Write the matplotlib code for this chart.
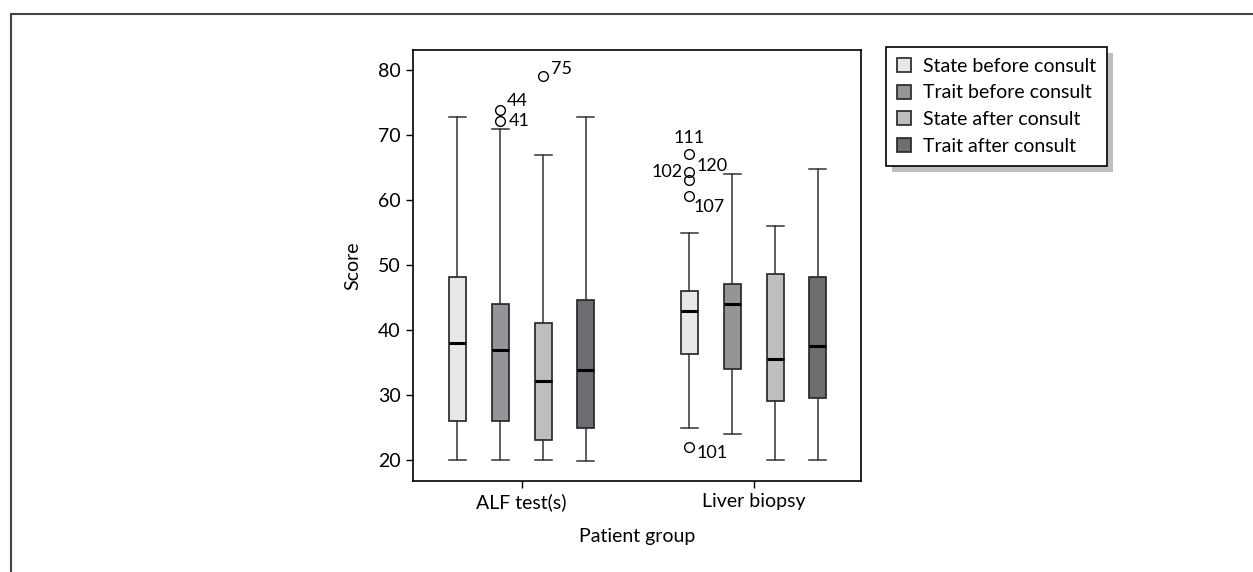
import matplotlib
matplotlib.use('Agg')
import matplotlib.pyplot as plt
from matplotlib.patches import Rectangle, Patch
from matplotlib.lines import Line2D
from matplotlib.transforms import IdentityTransform

plt.rcParams['font.family'] = ['Lato', 'DejaVu Sans']

groups = ['ALF test(s)', 'Liver biopsy']
series = ['State before consult', 'Trait before consult',
          'State after consult', 'Trait after consult']
colors = ['#e6e7e8', '#939598', '#bcbec0', '#6d6e71']

# one row per series, values for [ALF test(s), Liver biopsy]
whis_lo = [[20, 25], [20, 24], [20, 20.1], [19.9, 20]]
q1 = [[26.1, 36.4], [26.1, 34.0], [23.1, 29.1], [25.0, 29.6]]
med = [[38.0, 43.0], [37.0, 44.1], [32.2, 35.6], [33.9, 37.5]]
q3 = [[48.2, 46.1], [44.1, 47.1], [41.1, 48.6], [44.6, 48.2]]
whis_hi = [[72.8, 55.0], [71.0, 64.0], [67.0, 56.0], [72.8, 64.8]]
outliers = [[[], [67.1, 64.4, 63.1, 60.7, 22.0]],
            [[73.8, 72.2], []],
            [[79.1], []],
            [[], []]]
outlier_ids = [[[], ['111', '102', '120', '107', '101']],
               [['44', '41'], []],
               [['75'], []],
               [[], []]]

# label placement (offset in points, alignment)
label_pos = {'111': (0, 6, 'center', 'bottom'),
             '102': (-5, 0, 'right', 'center'),
             '120': (5, 10, 'left', 'center'),
             '107': (3, -8, 'left', 'center'),
             '101': (5, -4, 'left', 'center'),
             '44': (5, 7, 'left', 'center'),
             '41': (6, 0, 'left', 'center'),
             '75': (6, 5, 'left', 'center')}

fig = plt.figure(figsize=(12.53, 5.72), dpi=100)
ax = fig.add_axes([413/1253, 1-481/572, 448/1253, 431/572])

step = 0.185
width = 0.073
for i in range(len(series)):
    stats = []
    pos = []
    for g in range(len(groups)):
        stats.append({'whislo': whis_lo[i][g], 'q1': q1[i][g], 'med': med[i][g],
                      'q3': q3[i][g], 'whishi': whis_hi[i][g], 'fliers': outliers[i][g]})
        pos.append(g + (i - 1.5) * step)
    ax.bxp(stats, positions=pos, widths=width, capwidths=width, patch_artist=True,
           boxprops=dict(facecolor=colors[i], edgecolor='#222222', linewidth=1.2),
           medianprops=dict(color='black', linewidth=2.2),
           whiskerprops=dict(color='#333333', linewidth=1.1),
           capprops=dict(color='#333333', linewidth=1.1),
           flierprops=dict(marker='o', markersize=7, markerfacecolor='none',
                           markeredgecolor='black', markeredgewidth=1))
    for g in range(len(groups)):
        for v, lab in zip(outliers[i][g], outlier_ids[i][g]):
            dx, dy, ha, va = label_pos[lab]
            ax.annotate(lab, (pos[g], v), xytext=(dx, dy), textcoords='offset points',
                        ha=ha, va=va, fontsize=13)

ax.set_xlim(-0.468, 1.463)
ax.set_ylim(16.8, 83.1)
ax.set_xticks(range(len(groups)))
ax.set_xticklabels(groups)
ax.set_yticks([20, 30, 40, 50, 60, 70, 80])
ax.tick_params(labelsize=14, length=5, width=1, direction='out', pad=4)
ax.set_xlabel('Patient group', fontsize=14, labelpad=12)
ax.set_ylabel('Score', fontsize=14, labelpad=12)
for s in ax.spines.values():
    s.set_linewidth(1.2)

handles = [Patch(facecolor=c, edgecolor='#222222', linewidth=1.2) for c in colors]
leg = fig.legend(handles, series, loc='upper left', bbox_to_anchor=(886/1253, 1-47/572),
                 borderaxespad=0, fontsize=14, frameon=True, fancybox=False,
                 handlelength=0.75, handleheight=0.75, handletextpad=0.6,
                 labelspacing=0.5, borderpad=0.55)
leg.get_frame().set_edgecolor('black')
leg.get_frame().set_linewidth(1.2)
leg.get_frame().set_alpha(1)
leg.set_zorder(5)

fig.canvas.draw()
bb = leg.get_window_extent()
fig.patches.append(Rectangle((bb.x0 + 6, bb.y0 - 6), bb.width, bb.height,
                             transform=IdentityTransform(), facecolor='#bcbec0',
                             edgecolor='none', zorder=4))

# outer frame lines
fig.add_artist(Line2D([11/1253, 1], [1-14/572, 1-14/572], color='#444444', linewidth=1.5))
fig.add_artist(Line2D([11/1253, 11/1253], [0, 1-14/572], color='#444444', linewidth=1.5))

fig.savefig('out.png', dpi=100)
